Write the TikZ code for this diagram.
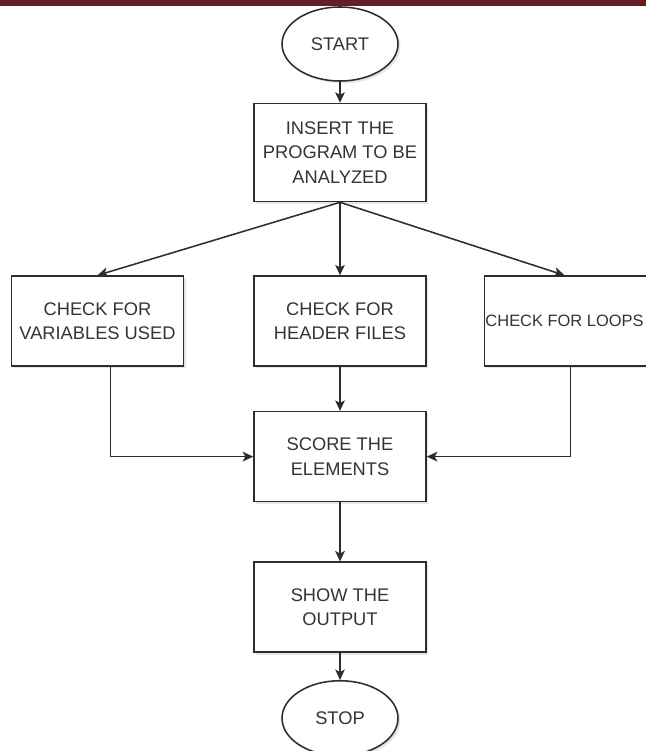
\documentclass[tikz,border=0pt]{standalone}
\usepackage{fontspec}
\setmainfont{Liberation Sans}
\usepackage{xcolor}
\usepackage{tikz}
\usetikzlibrary{positioning,arrows.meta,shapes.geometric,shadows}
\definecolor{barred}{RGB}{99,32,34}
\definecolor{edgegray}{RGB}{45,45,45}
\definecolor{textgray}{RGB}{52,52,52}
\tikzset{
  flowbox/.style={draw=edgegray, line width=1.1pt, fill=white, minimum width=4.3cm,
                  minimum height=2.25cm, align=center, text=textgray,
                  drop shadow={shadow xshift=0.06cm, shadow yshift=-0.06cm, opacity=0.2}},
  termnode/.style={flowbox, ellipse, minimum width=2.9cm, minimum height=1.85cm, inner sep=0pt},
  arrow/.style={-{Stealth[length=2.6mm, width=2.4mm, inset=0.6mm]}, line width=1.1pt, draw=edgegray},
}

\begin{document}
\begin{tikzpicture}[font=\fontsize{13}{17.5}\selectfont]
  \useasboundingbox (0,0) rectangle (16.15,-18.775);
  \fill[barred] (0,0) rectangle (16.15,-0.15);

  % main column
  \node[termnode] (start) at (8.5,-1.1) {START};
  \node[flowbox, minimum height=2.45cm, below=0.525cm of start] (insert) {INSERT THE\\PROGRAM TO BE\\ANALYZED};
  \node[flowbox, below=1.825cm of insert] (header) {CHECK FOR\\HEADER FILES};
  \node[flowbox, left=1.725cm of header]  (vars)   {CHECK FOR\\VARIABLES USED};
  \node[flowbox, right=1.425cm of header, font=\fontsize{11.7}{16}\selectfont] (loops) {\hspace*{-0.3cm}CHECK FOR LOOPS};
  \node[flowbox, below=1.1cm of header]   (score)  {SCORE THE\\ELEMENTS};
  \node[flowbox, below=1.475cm of score]  (show)   {SHOW THE\\OUTPUT};
  \node[termnode, minimum height=1.875cm, below=0.675cm of show] (stop) {STOP};

  % connectors
  \draw[arrow] (start) -- (insert);
  \draw[arrow] (insert.south) -- (vars.north);
  \draw[arrow] (insert.south) -- (header.north);
  \draw[arrow] (insert.south) -- ([xshift=-0.15cm]loops.north);
  \draw[arrow] (header) -- (score);
  \draw[arrow] ([xshift=0.325cm]vars.south) |- (score.west);
  \draw[arrow] (loops.south) |- (score.east);
  \draw[arrow] (score) -- (show);
  \draw[arrow] (show) -- (stop);
\end{tikzpicture}
\end{document}
